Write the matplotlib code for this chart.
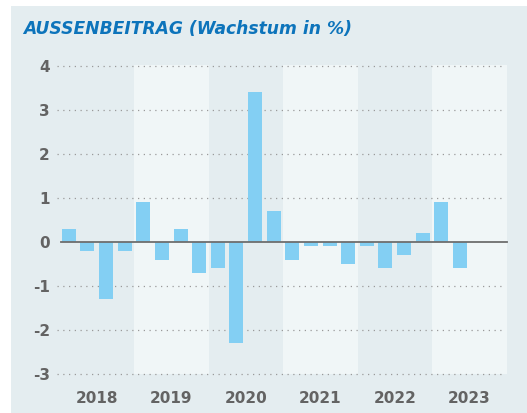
import matplotlib
matplotlib.use("Agg")
import matplotlib.pyplot as plt
from matplotlib.patches import Rectangle

# --- Data: Außenbeitrag, quarterly growth in % ---
years = ["2018", "2019", "2020", "2021", "2022", "2023"]
values = [0.3, -0.2, -1.3, -0.2,
          0.9, -0.4, 0.3, -0.7,
          -0.6, -2.3, 3.4, 0.7,
          -0.4, -0.1, -0.1, -0.5,
          -0.1, -0.6, -0.3, 0.2,
          0.9, -0.6]
yticks = [-3, -2, -1, 0, 1, 2, 3, 4]

# --- Colours ---
PANEL = "#e4edf0"
BAND = "#f0f6f7"
BAR = "#83cff3"
TEXT = "#636363"
TITLE = "#0d74bb"

plt.rcParams["font.family"] = ["DejaVu Sans"]

W, H = 527, 413
fig = plt.figure(figsize=(W / 100, H / 100), dpi=100)
fig.patch.set_facecolor("white")
fig.patches.append(Rectangle((11 / W, 0), 1 - 11 / W, 1 - 6 / H,
                             transform=fig.transFigure, facecolor=PANEL,
                             edgecolor="none", zorder=-10))

fig.text(23 / W, 1 - 29 / H, "AUSSENBEITRAG (Wachstum in %)",
         color=TITLE, fontsize=12.3, fontweight="bold", fontstyle="italic",
         ha="left", va="center")

left, right = 59.5 / W, 506.5 / W
bottom, top = (H - 374) / H, (H - 65) / H
ax = fig.add_axes([left, bottom, right - left, top - bottom])
ax.set_facecolor(PANEL)
for s in ax.spines.values():
    s.set_visible(False)

nq = 4 * len(years)
ax.set_xlim(0, nq)
ax.set_ylim(-3, 4 + 1 / 44)

# light bands for every other year
for i in range(1, len(years), 2):
    ax.axvspan(4 * i, 4 * i + 4, color=BAND, lw=0, zorder=0)

# dotted grid
for y in yticks:
    if y == 0:
        continue
    ax.plot([-0.16, 23.74], [y, y], color="#9a9a9a", lw=0.9,
            linestyle=(0, (1, 3.6)), clip_on=False, zorder=1)

x = [i + 0.5 for i in range(len(values))]
ax.bar(x, values, width=0.75, color=BAR, zorder=2)

ax.plot([0.06, nq], [0, 0], color="#6e6e6e", lw=1.3, zorder=3, clip_on=False)

ax.set_yticks(yticks)
ax.set_yticklabels([str(v) for v in yticks])
ax.tick_params(axis="y", length=0, pad=7, labelsize=11, labelcolor=TEXT)
for lab in ax.get_yticklabels():
    lab.set_fontweight("bold")

ax.set_xticks([4 * i + 2 for i in range(len(years))])
ax.set_xticklabels(years)
ax.tick_params(axis="x", length=0, pad=12, labelsize=11, labelcolor=TEXT)
for lab in ax.get_xticklabels():
    lab.set_fontweight("bold")

fig.savefig("out.png", dpi=100)
